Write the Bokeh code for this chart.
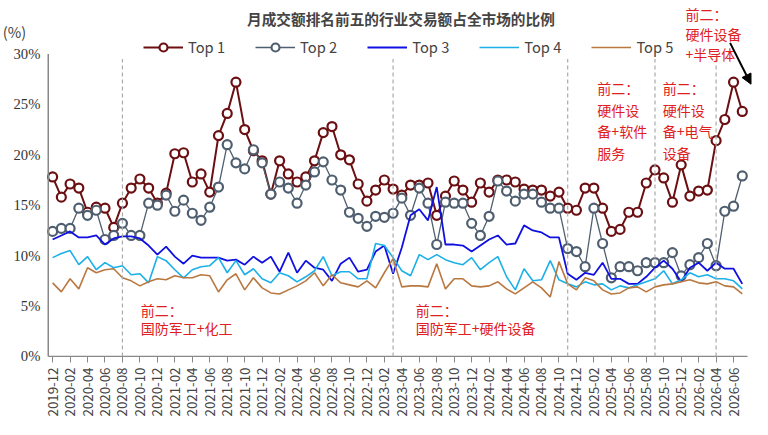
from bokeh.plotting import figure
from bokeh.models import Label, Legend, LegendItem, Arrow, NormalHead, FixedTicker, Range1d
from bokeh.embed import file_html
from bokeh.resources import INLINE

months = []
y, m = 2019, 12
for _ in range(80):
    months.append(f"{y}-{m:02d}")
    m += 1
    if m > 12:
        m = 1; y += 1

top1 = [17.8,15.8,17.1,16.7,14.3,14.8,14.7,12.8,15.2,16.7,17.6,16.7,15.2,16.2,20.1,20.2,17.3,18.1,16.3,21.9,24.1,27.2,22.5,20.4,19.4,16.1,19.4,18.1,17.3,17.8,19.4,22.2,22.8,20.0,19.5,17.1,15.4,16.5,17.5,16.6,16.0,17.0,17.0,17.2,14.0,15.9,17.4,16.5,15.3,17.2,16.3,17.5,17.5,17.3,16.6,16.5,16.5,15.9,16.3,14.7,14.5,16.7,16.7,14.7,12.4,12.6,14.3,14.3,17.2,18.5,17.7,15.3,19.0,15.9,16.4,16.5,21.4,23.5,27.2,24.3]
top2 = [12.4,12.7,12.7,14.7,14.0,14.5,11.6,12.0,13.2,12.0,12.0,15.2,15.0,16.0,14.4,15.5,14.2,13.5,14.8,16.8,21.0,19.2,18.6,20.5,19.2,16.1,17.3,16.7,15.2,17.0,18.3,19.3,17.5,16.5,14.3,13.7,12.9,13.9,13.8,14.2,15.7,14.0,16.7,15.2,11.1,15.3,15.2,15.2,13.2,12.0,13.9,17.4,16.4,15.4,16.1,16.1,15.3,14.7,14.7,10.7,10.4,8.9,14.7,11.2,7.8,8.9,8.9,8.5,9.3,9.3,9.3,10.3,8.0,9.1,9.8,11.2,9.0,14.4,14.9,17.9]
top3 = [11.6,12.0,12.4,11.8,11.8,12.0,11.1,11.7,11.9,11.9,11.7,11.0,10.1,10.9,9.9,9.2,10.0,9.8,9.8,9.8,9.5,9.6,9.1,9.9,9.3,9.9,8.4,10.3,8.3,9.5,8.8,8.6,7.5,9.2,9.8,8.4,8.6,10.4,11.0,8.2,10.8,14.0,14.6,13.5,16.8,11.1,11.1,11.0,10.4,11.0,11.6,12.0,11.1,11.2,13.0,12.5,12.3,11.8,11.8,8.2,7.6,8.3,8.1,9.3,7.7,7.7,7.2,7.2,7.9,8.8,9.5,8.7,7.4,8.8,9.3,8.5,9.3,8.7,8.7,7.2]
top4 = [9.8,10.2,10.5,9.1,9.9,8.6,9.3,8.8,9.0,8.1,8.2,7.3,9.9,9.5,8.6,7.8,8.6,8.9,9.0,9.8,8.3,9.5,8.1,8.7,7.7,7.3,8.3,8.0,7.4,7.9,8.5,9.9,8.0,8.4,8.4,7.7,7.7,11.2,11.0,9.8,8.5,8.0,10.1,9.6,10.1,9.6,9.3,9.1,9.8,8.6,9.3,9.9,7.9,6.6,8.7,7.5,7.6,9.5,7.6,7.2,6.9,7.4,7.1,7.2,6.6,7.0,6.8,7.1,7.4,7.7,8.5,7.2,7.6,8.3,7.9,8.1,7.7,7.7,7.5,6.7]
top5 = [7.3,6.4,7.7,6.7,8.8,8.3,8.6,8.7,7.8,7.5,7.0,7.4,7.7,7.6,8.0,7.8,7.8,8.1,8.0,6.4,7.6,8.2,6.6,7.8,6.8,6.3,6.2,6.6,7.0,7.5,8.3,7.0,8.1,7.3,7.1,6.9,7.5,6.8,8.3,9.7,6.9,7.0,7.0,6.9,9.2,6.7,7.7,7.7,7.0,6.9,7.0,7.4,6.7,6.2,6.8,7.4,6.8,5.9,9.4,7.2,6.6,7.8,7.5,6.6,6.2,6.3,6.8,6.9,6.4,6.9,7.1,7.2,7.4,7.6,7.3,7.2,7.4,7.0,6.9,6.2]
split_idx = [8, 39, 59, 69, 76]
ytick_vals = [0, 5, 10, 15, 20, 25, 30]
ytick_labels = ["0%", "5%", "10%", "15%", "20%", "25%", "30%"]

x = list(range(len(months)))
FONT = "Noto Sans CJK SC"

p = figure(width=752, height=419, output_backend="svg", toolbar_location=None,
           x_range=Range1d(-5.97, 80.17), y_range=Range1d(-0.6, 35.3),
           min_border_left=0, min_border_right=0, min_border_top=0, min_border_bottom=56)
p.outline_line_color = None
p.xgrid.visible = False
p.ygrid.visible = False
p.yaxis.visible = False

r1l = p.line(x, top1, color="#6B0F12", line_width=2)
r1c = p.scatter(x, top1, size=9, fill_color="white", line_color="#6B0F12", line_width=2.2)
r2l = p.line(x, top2, color="#4F5F70", line_width=1.3)
r2c = p.scatter(x, top2, size=9, fill_color="white", line_color="#4F5F70", line_width=2.2)
r3 = p.line(x, top3, color="#1010E0", line_width=1.8)
r4 = p.line(x, top4, color="#1CB0E8", line_width=1.6)
r5 = p.line(x, top5, color="#B87840", line_width=1.6)

# axes lines
p.segment(x0=[-0.5], y0=[0], x1=[-0.5], y1=[30], line_color="#888888", line_width=1.5)
p.segment(x0=[-0.5], y0=[0], x1=[79.6], y1=[0], line_color="#888888", line_width=1.2)
p.segment(x0=split_idx, y0=[0]*5, x1=split_idx, y1=[29.5]*5, line_color="#AAAAAA", line_dash="4 3", line_width=1.2)
p.text(x=[-1.4]*len(ytick_vals), y=ytick_vals, text=ytick_labels, text_align="right", text_baseline="middle",
       text_font=FONT, text_font_size="11pt", text_color="#333333")

legend = Legend(items=[LegendItem(label="Top 1", renderers=[r1l, r1c]),
                       LegendItem(label="Top 2", renderers=[r2l, r2c]),
                       LegendItem(label="Top 3", renderers=[r3]),
                       LegendItem(label="Top 4", renderers=[r4]),
                       LegendItem(label="Top 5", renderers=[r5])],
                orientation="horizontal", location=(143, 305), border_line_color=None,
                label_text_font=FONT, label_text_font_size="11pt", glyph_width=40,
                spacing=30, padding=0, margin=0, background_fill_alpha=0)
p.add_layout(legend, "center")

p.xaxis.ticker = FixedTicker(ticks=list(range(0, 80, 2)))
p.xaxis.major_label_overrides = {i: months[i] for i in range(0, 80, 2)}
p.xaxis.major_label_orientation = 1.5708
p.xaxis.major_label_text_font_size = "10pt"
p.xaxis.major_label_text_font = FONT
p.xaxis.minor_tick_line_color = None
p.xaxis.major_tick_line_color = "#888888"
p.xaxis.major_tick_in = 6
p.xaxis.major_tick_out = 0
p.xaxis.axis_line_color = None

p.add_layout(Label(x=39.9, y=34.6, text="月成交额排名前五的行业交易额占全市场的比例",
                   text_font=FONT, text_font_size="11pt", text_font_style="bold", text_align="center", text_baseline="top"))
p.add_layout(Label(x=-5.7, y=33.3, text="(%)",
                   text_font=FONT, text_font_size="11pt", text_baseline="top"))

red = "#E02020"
notes = [(10.1, 5.6, "前二：\n国防军工+化工", 0.9),
         (41.6, 5.6, "前二：\n国防军工+硬件设备", 0.9),
         (62.4, 27.6, "前二：\n硬件设\n备+软件\n服务", 1.08),
         (69.9, 27.6, "前二：\n硬件设\n备+电气\n设备", 1.08),
         (72.5, 35.0, "前二：\n硬件设备\n+半导体", 1.0)]
for nx, ny, t, lh in notes:
    p.add_layout(Label(x=nx, y=ny, text=t, text_color=red, text_font=FONT, text_font_size="10.5pt",
                       text_baseline="top", text_line_height=lh))

p.add_layout(Arrow(x_start=77.6, y_start=31.1, x_end=80.0, y_end=27.0, line_width=2, line_color="black",
                   end=NormalHead(size=10, fill_color="black", line_color="black")))

open("out.html", "w").write(file_html(p, INLINE))
